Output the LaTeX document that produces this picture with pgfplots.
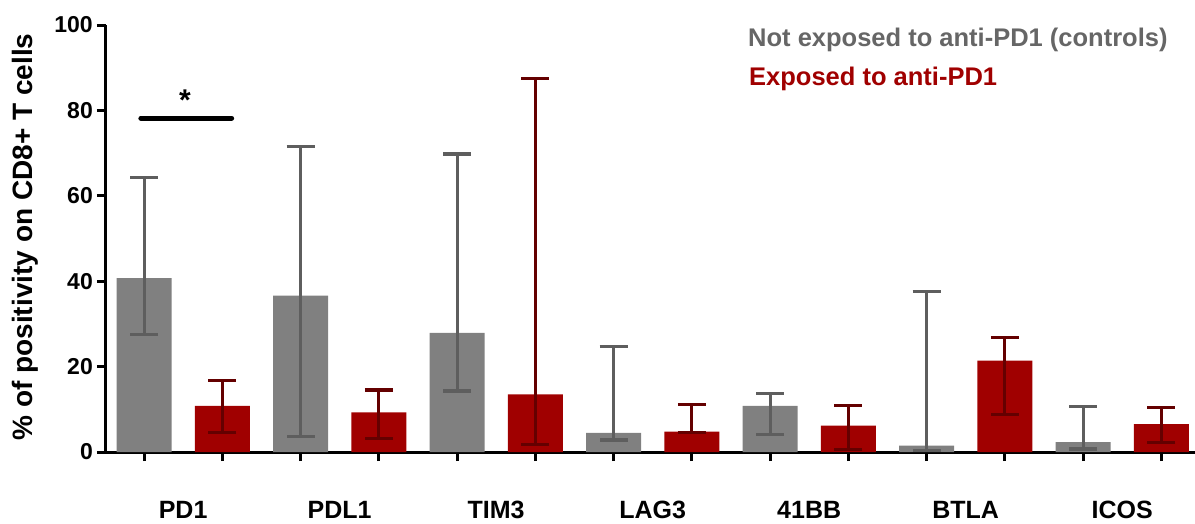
\documentclass[border=0pt]{standalone}
\usepackage{pgfplots}
\pgfplotsset{compat=1.18}
\usepackage{pgfplotstable}
\usepackage{fontspec}
\setmainfont{Liberation Sans}
\definecolor{barg}{HTML}{808080}
\definecolor{errg}{HTML}{5E5E5E}
\definecolor{barr}{HTML}{A00000}
\definecolor{errr}{HTML}{640000}
\definecolor{legg}{HTML}{666666}
\pgfplotstableread{
x y hi lo
0 40.7 64.2 27.6
2 36.6 71.5 3.6
4 27.9 69.8 14.3
6 4.5 24.8 2.8
8 10.8 13.7 4.1
10 1.5 37.5 0.3
12 2.3 10.6 0.7
}\ctrl
\pgfplotstableread{
x y hi lo
1 10.8 16.7 4.6
3 9.3 14.5 3.2
5 13.5 87.4 1.8
7 4.8 11.2 4.5
9 6.2 10.8 0.5
11 21.4 26.8 8.8
13 6.5 10.4 2.2
}\expo
\tikzset{catlab/.style={font=\bfseries\fontsize{25}{25}\selectfont, anchor=base, inner sep=0pt, yshift=-66.5pt}}
\begin{document}
\begin{tikzpicture}
\begin{axis}[
  at={(0pt,0pt)}, anchor=south west,
  scale only axis, width=1089pt, height=427pt,
  xmin=-0.4856, xmax=13.43, ymin=0, ymax=100,
  axis lines*=left,
  axis line style={line width=3pt, black},
  clip=false,
  xtick={0,...,13}, xticklabels={},
  ytick={0,20,...,100},
  tick align=outside,
  major tick length=9pt,
  tick style={line width=3pt, black},
  /pgf/number format/assume math mode=true,
  yticklabel style={font=\bfseries\fontsize{23}{23}\selectfont, inner sep=1pt, xshift=-3pt},
]
\addplot[ybar, bar width=55pt, bar shift=0pt, fill=barg, draw=none,
  error bars/.cd, y dir=both, y explicit,
  error bar style={line width=3pt, errg},
  error mark options={rotate=90, line width=3.2pt, errg, mark size=14pt}]
  table[x=x, y=y, y error plus expr=\thisrow{hi}-\thisrow{y}, y error minus expr=\thisrow{y}-\thisrow{lo}] {\ctrl};
\addplot[ybar, bar width=55pt, bar shift=0pt, fill=barr, draw=none,
  error bars/.cd, y dir=both, y explicit,
  error bar style={line width=3pt, errr},
  error mark options={rotate=90, line width=3.2pt, errr, mark size=14pt}]
  table[x=x, y=y, y error plus expr=\thisrow{hi}-\thisrow{y}, y error minus expr=\thisrow{y}-\thisrow{lo}] {\expo};
\draw[line width=5pt, line cap=round] (axis cs:-0.04,78.2) -- (axis cs:1.12,78.2);
\node[catlab] at (axis cs:0.5,0) {PD1};
\node[catlab] at (axis cs:2.5,0) {PDL1};
\node[catlab] at (axis cs:4.5,0) {TIM3};
\node[catlab] at (axis cs:6.5,0) {LAG3};
\node[catlab] at (axis cs:8.5,0) {41BB};
\node[catlab] at (axis cs:10.5,0) {BTLA};
\node[catlab] at (axis cs:12.5,0) {ICOS};
\end{axis}
\node[font=\bfseries\fontsize{30}{30}\selectfont, anchor=north, inner sep=0pt] at (79pt,362pt) {*};
\node[rotate=90, anchor=base, inner sep=0pt, font=\bfseries\fontsize{28}{28}\selectfont] at (-73pt,215pt) {\% of positivity on CD8+ T cells};
\node[anchor=base west, inner sep=0pt, text=legg, font=\bfseries\fontsize{25.5}{25.5}\selectfont] at (642pt,405pt) {Not exposed to anti-PD1 (controls)};
\node[anchor=base west, inner sep=0pt, text=barr, font=\bfseries\fontsize{25.5}{25.5}\selectfont] at (643pt,366pt) {Exposed to anti-PD1};
\pgfresetboundingbox
\useasboundingbox (-106pt,-71pt) rectangle (1089pt,452pt);
\end{tikzpicture}
\end{document}
